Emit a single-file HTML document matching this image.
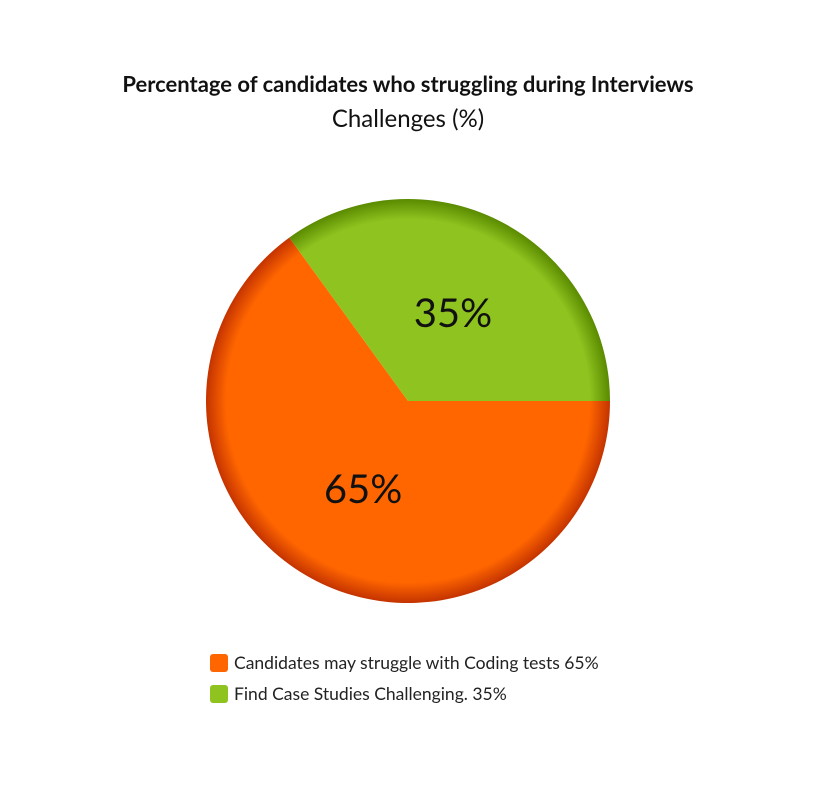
<!DOCTYPE html>
<html><head><meta charset="utf-8"><style>
body{margin:0;background:#fff;}
svg{display:block;font-family:"Lato","Liberation Sans",sans-serif;}
</style></head><body>
<svg width="816" height="787" viewBox="0 0 816 787">
<defs>
<radialGradient id="gO" cx="408" cy="401" r="202" gradientUnits="userSpaceOnUse">
<stop offset="0.9" stop-color="#ff6600"/><stop offset="1" stop-color="#c43300"/></radialGradient>
<radialGradient id="gG" cx="408" cy="401" r="202" gradientUnits="userSpaceOnUse">
<stop offset="0.9" stop-color="#8fc31f"/><stop offset="1" stop-color="#5a8a00"/></radialGradient>
</defs>
<text x="408" y="92" text-anchor="middle" font-size="22" font-weight="bold" fill="#111">Percentage of candidates who struggling during Interviews</text>
<text x="408" y="127" text-anchor="middle" font-size="24" fill="#111">Challenges (%)</text>
<g id="slices"></g>
<g id="legend"></g>
</svg>
<script>
const categories = ["Candidates may struggle with Coding tests 65%", "Find Case Studies Challenging. 35%"];
const values = [65, 35];
const labels = ["65%", "35%"];
const fills = ["url(#gO)", "url(#gG)"];
const legendColors = ["#ff6600", "#8fc31f"];
const ns = "http://www.w3.org/2000/svg";
const cx = 408, cy = 401, r = 202;
const total = values.reduce((a,b)=>a+b,0);
const g = document.getElementById('slices');
let a0 = 0;
values.forEach((v,i)=>{
  const a1 = a0 + v/total*360;
  const p = (a)=>[cx + r*Math.cos(a*Math.PI/180), cy + r*Math.sin(a*Math.PI/180)];
  const [x0,y0]=p(a0),[x1,y1]=p(a1);
  const large = (a1-a0)>180?1:0;
  const path = document.createElementNS(ns,'path');
  path.setAttribute('d',`M${cx},${cy}L${x0},${y0}A${r},${r} 0 ${large} 1 ${x1},${y1}Z`);
  path.setAttribute('fill',fills[i]);
  
  
  g.appendChild(path);
  const mid=(a0+a1)/2*Math.PI/180;
  const t=document.createElementNS(ns,'text');
  t.setAttribute('x',cx+r*0.49*Math.cos(mid));
  t.setAttribute('y',cy+r*0.49*Math.sin(mid)+14);
  t.setAttribute('text-anchor','middle');
  t.setAttribute('font-size','40');
  t.setAttribute('fill','#111');
  t.textContent=labels[i];
  
  
  g.appendChild(t);
  a0=a1;
});
const lg=document.getElementById('legend');
categories.forEach((c,i)=>{
  const y=654+i*31;
  const rc=document.createElementNS(ns,'rect');
  rc.setAttribute('x',210);rc.setAttribute('y',y);rc.setAttribute('width',18);rc.setAttribute('height',18);
  rc.setAttribute('rx',3);rc.setAttribute('fill',legendColors[i]);
  
  
  lg.appendChild(rc);
  const t=document.createElementNS(ns,'text');
  t.setAttribute('x',234);t.setAttribute('y',y+15);t.setAttribute('font-size','17.5');t.setAttribute('fill','#222');
  t.textContent=c;
  
  
  lg.appendChild(t);
});
</script>
</body></html>
